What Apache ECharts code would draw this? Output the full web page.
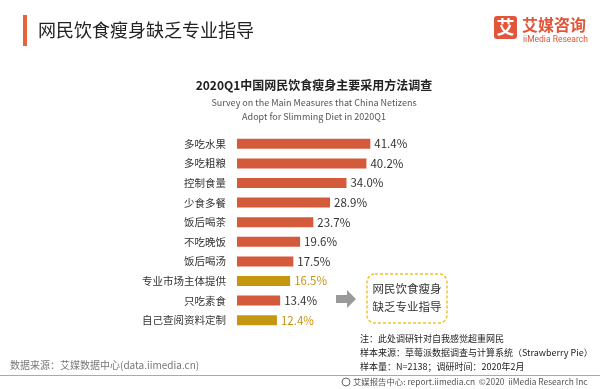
<!DOCTYPE html>
<html><head><meta charset="utf-8">
<script src="https://cdn.jsdelivr.net/npm/echarts@6/dist/echarts.min.js"></script>
<style>html,body{margin:0;padding:0;background:#fff}#c{width:600px;height:389px}</style>
</head><body><div id="c"></div>
<script>
var categories = ['多吃水果','多吃粗粮','控制食量','少食多餐','饭后喝茶','不吃晚饭','饭后喝汤','专业市场主体提供','只吃素食','自己查阅资料定制'];
var values = [41.4, 40.2, 34.0, 28.9, 23.7, 19.6, 17.5, 16.5, 13.4, 12.4];
var highlighted = ['专业市场主体提供','自己查阅资料定制'];
var RED = '#d35a3b', GOLD = '#c5960f';
var FONT = '"Noto Sans CJK SC", sans-serif';

var chart = echarts.init(document.getElementById('c'));
var data = values.map(function(v,i){
  var hl = highlighted.indexOf(categories[i]) >= 0;
  return {value: v, itemStyle:{color: hl?GOLD:RED}, label:{color: hl?GOLD:'#333'}};
});
chart.setOption({
  animation:false,
  textStyle:{fontFamily:FONT},
  grid:{left:237, top:134, width:161, height:196},
  xAxis:{type:'value', min:0, max:50, show:false},
  yAxis:{type:'category', data:categories, inverse:true,
    axisLine:{show:false}, axisTick:{show:false},
    axisLabel:{color:'#333', fontSize:10.5, margin:11, fontFamily:FONT}},
  series:[{type:'bar', data:data, barWidth:10,
    label:{show:true, position:'right', distance:4, fontSize:11.5, fontFamily:FONT,
      formatter:function(p){return p.value.toFixed(1)+'%';}}}],
  graphic:[
    {type:'rect', shape:{x:23,y:15,width:4,height:31}, style:{fill:'#e8623a'}},
    {type:'text', left:38, top:21, style:{text:'网民饮食瘦身缺乏专业指导', fontSize:18, fill:'#222', fontFamily:FONT}},
    {type:'rect', shape:{x:494,y:16,width:23,height:23,r:3}, style:{fill:'#e1553a'}},
    {type:'text', x:505.5, y:27.5, style:{text:'艾', fontSize:18, fontWeight:'bold', fill:'#fff', align:'center', verticalAlign:'middle', fontFamily:FONT}},
    {type:'text', x:522, y:25, style:{text:'艾媒咨询', fontSize:16, fontWeight:'bold', fill:'#e1553a', verticalAlign:'middle', fontFamily:FONT}},
    {type:'text', x:523, y:40, style:{text:'iiMedia Research', fontSize:8.5, fill:'#e1553a', verticalAlign:'middle', fontFamily:'Roboto, sans-serif'}},
    {type:'text', x:314, y:85, style:{text:'2020Q1中国网民饮食瘦身主要采用方法调查', fontSize:12, fontWeight:'bold', fill:'#222', align:'center', verticalAlign:'middle', fontFamily:FONT}},
    {type:'text', x:314, y:103, style:{text:'Survey on the Main Measures that China Netizens', fontSize:9, fill:'#555', align:'center', verticalAlign:'middle', fontFamily:FONT}},
    {type:'text', x:314, y:117, style:{text:'Adopt for Slimming Diet in 2020Q1', fontSize:9, fill:'#555', align:'center', verticalAlign:'middle', fontFamily:FONT}},
    {type:'polygon', shape:{points:[[336,295],[347,295],[347,290],[356,299],[347,308],[347,303],[336,303]]}, style:{fill:'#9a9a9a'}},
    {type:'rect', shape:{x:367,y:274,width:80,height:49,r:8}, style:{fill:'none', stroke:'#f2c230', lineWidth:1.5, lineDash:[3,2]}},
    {type:'text', x:407, y:289, style:{text:'网民饮食瘦身', fontSize:11.5, fill:'#333', align:'center', verticalAlign:'middle', fontFamily:FONT}},
    {type:'text', x:407, y:307, style:{text:'缺乏专业指导', fontSize:11.5, fill:'#333', align:'center', verticalAlign:'middle', fontFamily:FONT}},
    {type:'text', x:360, y:339, style:{text:'注：此处调研针对自我感觉超重网民', fontSize:9, fill:'#222', verticalAlign:'middle', fontFamily:FONT}},
    {type:'text', x:360, y:353, style:{text:'样本来源：草莓派数据调查与计算系统（Strawberry Pie）', fontSize:9, fill:'#222', verticalAlign:'middle', fontFamily:FONT}},
    {type:'text', x:360, y:367, style:{text:'样本量：N=2138；调研时间：2020年2月', fontSize:9, fill:'#222', verticalAlign:'middle', fontFamily:FONT}},
    {type:'text', x:10, y:365, style:{text:'数据来源：艾媒数据中心(data.iimedia.cn)', fontSize:10, fill:'#777', verticalAlign:'middle', fontFamily:FONT}},
    {type:'rect', shape:{x:0,y:375,width:600,height:1}, style:{fill:'#aaa'}},
    {type:'circle', shape:{cx:346,cy:382,r:4}, style:{fill:'none', stroke:'#666', lineWidth:1}},
    {type:'text', x:353, y:382, style:{text:'艾媒报告中心: report.iimedia.cn  ©2020  iiMedia Research Inc', fontSize:8.4, fill:'#555', verticalAlign:'middle', fontFamily:FONT}}
  ]
});
</script></body></html>
